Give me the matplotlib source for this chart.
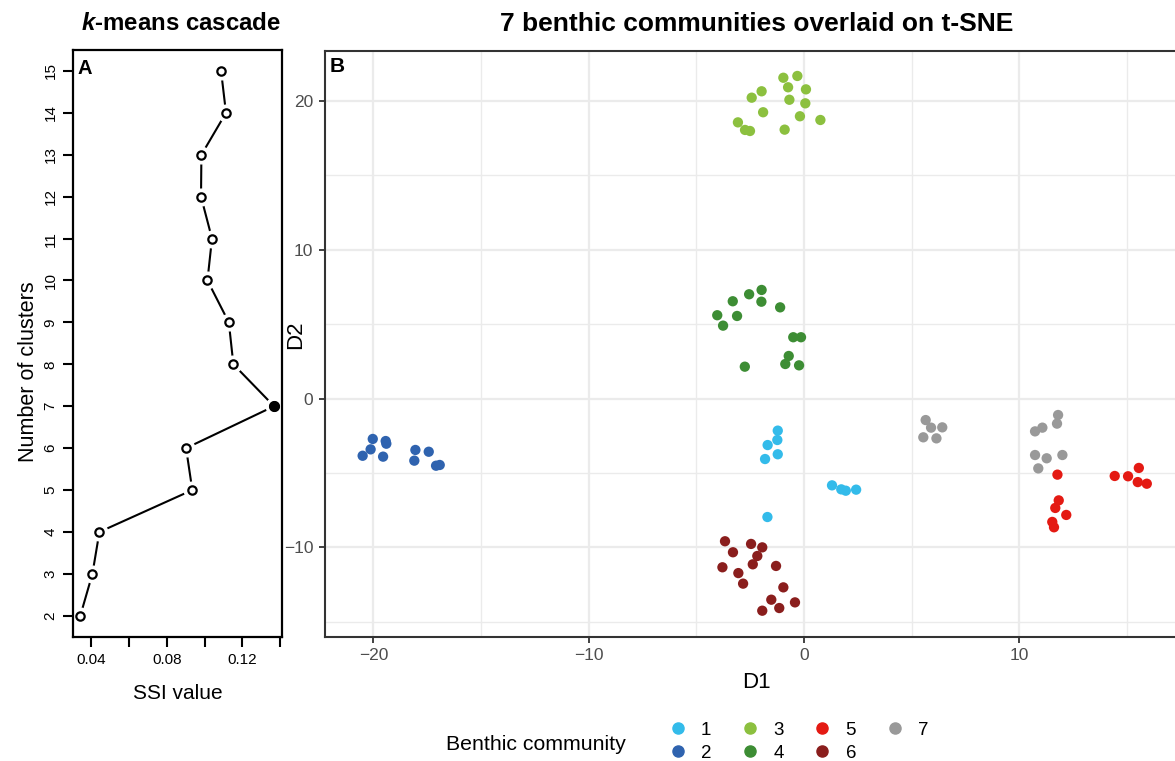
import numpy as np
import matplotlib.pyplot as plt
from matplotlib.lines import Line2D

plt.rcParams['font.family'] = ['Liberation Sans', 'DejaVu Sans']
plt.rcParams['mathtext.fontset'] = 'custom'
plt.rcParams['mathtext.it'] = 'Liberation Sans:italic:bold'

# panel A: k-means cascade
n_clusters = list(range(2, 16))
ssi_value = [0.0343, 0.0407, 0.0444, 0.0935, 0.0902, 0.1367, 0.1152,
             0.1128, 0.1015, 0.1039, 0.0981, 0.0983, 0.1113, 0.1087]
best_k = 7

# panel B: t-SNE coordinates per community
community_labels = ['1', '2', '3', '4', '5', '6', '7']
community_colors = ['#33BBEA', '#2F63AF', '#8CC03F', '#3D8D34',
                    '#E41A13', '#8A1E1D', '#999999']

c1_x = [-1.22, -1.24, -1.69, -1.22, -1.81, 1.30, 1.73, 1.94, 2.42, -1.70]
c1_y = [-2.16, -2.79, -3.13, -3.75, -4.07, -5.84, -6.11, -6.20, -6.13, -7.97]
c2_x = [-20.03, -19.43, -19.40, -20.50, -20.13, -19.55, -18.05, -18.10,
        -17.43, -17.09, -16.92]
c2_y = [-2.72, -2.86, -3.04, -3.85, -3.42, -3.91, -3.46, -4.18,
        -3.58, -4.52, -4.47]
c3_x = [-0.96, -0.31, -0.74, 0.09, -1.97, -2.43, -0.68, 0.06, -1.90,
        -0.19, 0.76, -3.07, -2.74, -2.51, -0.90]
c3_y = [21.57, 21.69, 20.93, 20.79, 20.66, 20.23, 20.09, 19.85, 19.25,
        18.98, 18.73, 18.57, 18.06, 17.99, 18.08]
c4_x = [-1.97, -2.55, -3.31, -1.98, -1.11, -4.03, -3.11, -3.76, -0.50,
        -0.14, -0.71, -0.87, -0.23, -2.75]
c4_y = [7.30, 7.01, 6.54, 6.51, 6.13, 5.60, 5.55, 4.90, 4.12,
        4.12, 2.86, 2.32, 2.23, 2.14]
c5_x = [11.77, 14.43, 15.05, 15.55, 15.50, 15.92, 11.83, 11.67, 12.18,
        11.53, 11.61]
c5_y = [-5.12, -5.21, -5.23, -4.67, -5.62, -5.73, -6.85, -7.36, -7.83,
        -8.30, -8.66]
c6_x = [-3.67, -2.46, -1.94, -3.30, -2.17, -2.38, -1.30, -3.79, -3.05,
        -2.83, -0.96, -1.52, -0.42, -1.15, -1.94]
c6_y = [-9.60, -9.78, -10.01, -10.34, -10.59, -11.15, -11.26, -11.35,
        -11.74, -12.45, -12.70, -13.53, -13.71, -14.09, -14.27]
c7_x = [5.65, 5.90, 6.42, 5.54, 6.15, 11.80, 11.75, 11.07, 10.73, 10.73,
        11.27, 12.00, 10.88]
c7_y = [-1.45, -1.96, -1.94, -2.61, -2.68, -1.11, -1.69, -1.96, -2.21,
        -3.80, -4.02, -3.80, -4.70]

xs = [c1_x, c2_x, c3_x, c4_x, c5_x, c6_x, c7_x]
ys = [c1_y, c2_y, c3_y, c4_y, c5_y, c6_y, c7_y]

fig = plt.figure(figsize=(11.75, 7.61), dpi=100)

# ---- panel A ----
axA = fig.add_axes([0.0619, 0.1633, 0.1781, 0.771])
axA.plot(ssi_value, n_clusters, color='black', lw=1.5, zorder=1)
# white halo gives the R type="b" gap between line and points
axA.plot(ssi_value, n_clusters, 'o', color='white', ms=12, zorder=2)
axA.plot(ssi_value, n_clusters, 'o', mfc='white', mec='black', mew=1.6,
         ms=6, zorder=3)
i = n_clusters.index(best_k)
axA.plot(ssi_value[i], n_clusters[i], 'o', color='black', ms=7, zorder=4)
axA.set_xlim(0.0303, 0.1409)
axA.set_ylim(1.5, 15.5)
axA.set_xticks([0.04, 0.06, 0.08, 0.10, 0.12, 0.14])
axA.set_xticklabels(['0.04', '', '0.08', '', '0.12', ''])
axA.set_yticks(n_clusters)
axA.set_yticklabels([str(k) for k in n_clusters], rotation=90, va='center')
axA.tick_params(length=7, width=1.5, labelsize=11, pad=5)
axA.tick_params(axis='y', pad=4)
for s in axA.spines.values():
    s.set_linewidth(1.6)
axA.text(0.022, 0.985, 'A', transform=axA.transAxes, fontsize=14.5,
         fontweight='bold', ha='left', va='top')

# ---- panel B ----
axB = fig.add_axes([0.2762, 0.1633, 0.7238, 0.7697])
for cx, cy, col, lab in zip(xs, ys, community_colors, community_labels):
    axB.scatter(cx, cy, s=55, color=col, edgecolors='none', label=lab,
                zorder=3)
axB.set_xlim(-22.27, 17.23)
axB.set_ylim(-16.02, 23.37)
axB.set_xticks([-20, -10, 0, 10])
axB.set_xticklabels(['\u221220', '\u221210', '0', '10'])
axB.set_yticks([-10, 0, 10, 20])
axB.set_yticklabels(['\u221210', '0', '10', '20'])
axB.set_xticks([-15, -5, 5, 15], minor=True)
axB.set_yticks([-15, -5, 5, 15], minor=True)
axB.grid(True, which='major', color='#EBEBEB', lw=1.6, zorder=0)
axB.grid(True, which='minor', color='#EBEBEB', lw=1.0, zorder=0)
axB.set_axisbelow(True)
axB.tick_params(which='major', length=4, width=1.3, color='#333333',
                labelsize=12.5, labelcolor='#4D4D4D', pad=4)
axB.tick_params(which='minor', length=0)
for s in axB.spines.values():
    s.set_linewidth(1.5)
    s.set_color('#333333')
axB.spines['right'].set_visible(False)
axB.text(0.006, 0.99, 'B', transform=axB.transAxes, fontsize=15,
         fontweight='bold', ha='left', va='top')

# titles and axis labels
fig.text(0.1539, 0.969, r'$k$-means cascade', fontsize=17.3,
         fontweight='bold', ha='center', va='center')
fig.text(0.644, 0.968, '7 benthic communities overlaid on t-SNE',
         fontsize=19, fontweight='bold', ha='center', va='center')
fig.text(0.024, 0.511, 'Number of clusters', fontsize=15.5, rotation=90,
         ha='center', va='center')
fig.text(0.1515, 0.089, 'SSI value', fontsize=15, ha='center',
         va='center')
fig.text(0.252, 0.56, 'D2', fontsize=16, rotation=90, ha='center',
         va='center')
fig.text(0.644, 0.1025, 'D1', fontsize=16, ha='center', va='center')

# legend
handles = [Line2D([], [], marker='o', linestyle='', color=c, ms=8)
           for c in community_colors]
fig.text(0.3796, 0.0223, 'Benthic community', fontsize=15.3, ha='left',
         va='center')
fig.legend(handles, community_labels, ncol=4, loc='upper left',
           bbox_to_anchor=(0.5689, 0.0516), frameon=False, fontsize=13.5,
           handlelength=1.0, handletextpad=0.73, columnspacing=1.57,
           labelspacing=0.3, borderpad=0, borderaxespad=0)

fig.savefig('out.png', dpi=100)
